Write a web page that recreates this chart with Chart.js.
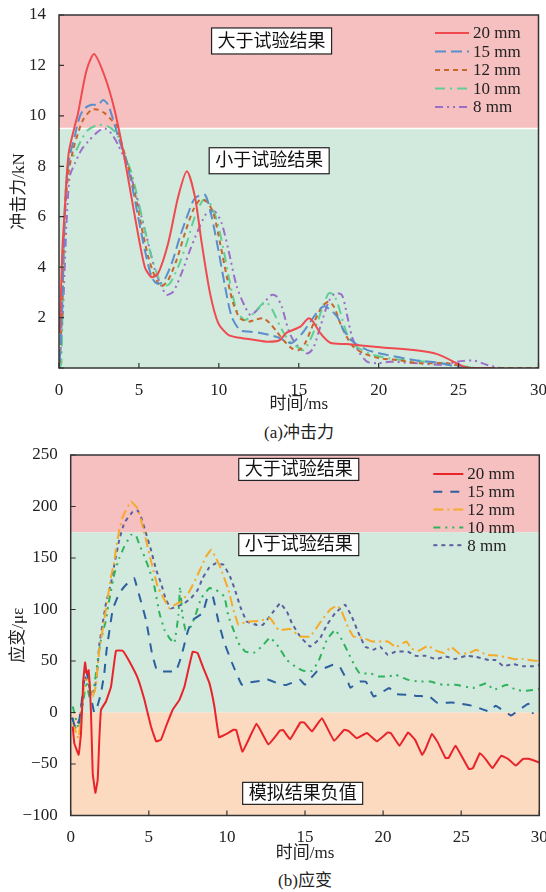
<!DOCTYPE html>
<html lang="zh-CN">
<head>
<meta charset="UTF-8" />
<title>冲击力与应变</title>
<script src="https://cdn.jsdelivr.net/npm/chart.js"></script>
<style>
  body { margin: 0; background: #fff; font-family: "Liberation Serif", "Noto Sans CJK SC", serif; color: #222; }
  .wrap { position: relative; width: 546px; height: 892px; }
  canvas { position: absolute; left: 0; }
  #forceChart { top: 0; }
  #strainChart { top: 440px; }
  .caption { position: absolute; width: 160px; font-size: 17px; line-height: 20px; text-align: center; }
</style>
</head>
<body>
<div class="wrap">
  <canvas id="forceChart" width="546" height="420"></canvas>
  <div class="caption" style="left:219px; top:423px;">(a)冲击力</div>
  <canvas id="strainChart" width="546" height="430"></canvas>
  <div class="caption" style="left:225px; top:871px;">(b)应变</div>
</div>

<script>
  // ---- (a) 冲击力, kN ----
  const forceLabels = ['20 mm', '15 mm', '12 mm', '10 mm', '8 mm'];

  const forceT20 = [0.05, 0.2, 0.36, 0.6, 0.98, 1.19, 1.72, 2.2, 2.87, 3.49, 4.12, 4.75, 5.37, 5.8, 6.2, 6.83, 7.46, 8.0, 8.5, 8.93, 9.45, 9.97, 10.6, 11.3, 12.27, 13.0, 13.8, 14.25, 15.1, 15.6, 15.9, 16.35, 16.97, 18.0, 20.1, 22.2, 23.66, 25.1, 25.5, 27.0];
  const forceV20 = [1.4, 4.5, 6.3, 8.5, 9.58, 10.1, 11.8, 12.45, 11.55, 10.2, 8.25, 6.0, 4.0, 3.6, 3.75, 4.95, 6.8, 7.8, 6.8, 4.95, 2.96, 1.77, 1.31, 1.2, 1.11, 1.04, 1.1, 1.4, 1.64, 1.97, 1.84, 1.38, 1.0, 0.95, 0.82, 0.71, 0.55, 0.12, 0, 0];

  const forceT15 = [0.05, 0.2, 0.31, 0.46, 0.67, 0.98, 1.3, 1.61, 2.03, 2.45, 2.76, 3.07, 3.39, 3.7, 4.12, 4.54, 4.95, 5.37, 5.79, 6.1, 6.52, 7.05, 7.57, 8.09, 8.5, 9.13, 9.55, 9.97, 10.39, 10.8, 11.33, 11.96, 12.5, 13.6, 14.5, 14.8, 15.3, 16.1, 16.6, 17.4, 17.8, 18.4, 19.3, 20.5, 22.2, 23.9, 24.9, 25.5];
  const forceV15 = [0.3, 2.5, 4.95, 7.33, 8.4, 9.18, 9.97, 10.3, 10.44, 10.44, 10.63, 10.44, 9.84, 9.18, 8.4, 7.33, 6.0, 4.68, 3.62, 3.36, 3.42, 4.15, 5.21, 6.14, 6.73, 6.87, 6.0, 4.68, 3.23, 2.04, 1.5, 1.44, 1.4, 1.24, 0.98, 1.1, 1.44, 2.17, 2.45, 2.04, 1.5, 1.04, 0.71, 0.52, 0.32, 0.19, 0.05, 0];

  const forceT12 = [0.05, 0.19, 0.36, 0.56, 0.88, 1.19, 1.5, 2.03, 2.45, 2.87, 3.28, 3.6, 3.91, 4.33, 4.75, 5.16, 5.58, 6.0, 6.38, 6.83, 7.36, 7.88, 8.4, 8.82, 9.24, 9.66, 10.08, 10.5, 10.9, 11.33, 11.9, 12.2, 12.79, 13.2, 13.63, 14.05, 14.57, 15.0, 15.4, 15.93, 16.45, 16.87, 17.2, 17.6, 18.0, 18.4, 19.06, 20.1, 21.1, 22.6, 24.3, 25.3, 26.3, 30];
  const forceV12 = [0.2, 2.3, 6.0, 7.6, 8.65, 9.31, 9.84, 10.24, 10.24, 10.1, 9.84, 9.64, 8.92, 7.99, 6.93, 5.61, 4.42, 3.62, 3.23, 3.49, 4.29, 5.35, 6.27, 6.67, 6.6, 6.14, 4.95, 3.62, 2.57, 1.97, 1.84, 1.9, 1.97, 1.77, 1.44, 1.1, 0.78, 0.71, 0.98, 1.77, 2.43, 2.63, 2.43, 1.77, 1.24, 0.85, 0.58, 0.38, 0.32, 0.19, 0.19, 0.05, 0, 0];

  const forceT10 = [0.05, 0.15, 0.25, 0.36, 0.56, 0.98, 1.4, 1.82, 2.45, 3.07, 3.6, 4.01, 4.54, 4.95, 5.37, 5.79, 6.2, 6.52, 6.94, 7.46, 7.99, 8.5, 9.03, 9.45, 9.87, 10.3, 10.7, 11.12, 11.64, 12.37, 12.9, 13.3, 13.84, 14.36, 14.88, 15.3, 15.7, 16.14, 16.55, 16.87, 17.2, 17.5, 17.8, 18.1, 18.6, 19.5, 21, 23, 25, 26];
  const forceV10 = [0, 0.2, 3.6, 6.3, 8.0, 8.5, 9.05, 9.44, 9.64, 9.58, 9.3, 8.65, 7.73, 6.67, 5.48, 4.42, 3.62, 3.23, 3.36, 4.02, 4.95, 6.0, 6.67, 6.53, 5.87, 4.68, 3.36, 2.3, 1.9, 2.3, 2.63, 2.37, 1.64, 1.1, 0.85, 0.71, 1.1, 1.77, 2.5, 2.96, 2.9, 2.43, 1.77, 1.24, 0.85, 0.55, 0.35, 0.25, 0.1, 0];

  const forceT8 = [0.04, 0.25, 0.46, 0.67, 0.98, 1.4, 1.82, 2.45, 2.87, 3.28, 3.7, 4.22, 4.75, 5.16, 5.58, 6.0, 6.42, 6.73, 7.15, 7.67, 8.2, 8.71, 9.24, 9.76, 10.18, 10.6, 11.12, 11.64, 12.0, 12.69, 13.3, 13.6, 13.94, 14.36, 14.78, 15.5, 15.9, 16.35, 16.87, 17.28, 17.7, 18.0, 18.33, 18.75, 19.27, 19.9, 20.73, 21.8, 22.6, 24.1, 24.9, 25.96, 26.8, 27.6];
  const forceV8 = [0.05, 2.3, 5.6, 7.6, 8.1, 8.65, 8.98, 9.38, 9.5, 9.3, 8.85, 8.12, 7.06, 6.0, 4.95, 3.89, 3.23, 2.9, 3.03, 3.76, 4.68, 5.48, 6.14, 6.2, 5.74, 4.68, 3.23, 2.43, 2.1, 2.5, 2.9, 2.85, 2.43, 1.5, 0.98, 0.58, 0.78, 1.64, 2.63, 2.96, 2.9, 2.17, 1.24, 0.65, 0.25, 0.19, 0.25, 0.21, 0.18, 0.12, 0.25, 0.29, 0.12, 0];

  const forceColors = ['#ef4a4f', '#5b8fcb', '#c9662a', '#5ecf95', '#9b6fc9'];
  const forceDashes = [[], [11, 5], [5, 4], [10, 5, 2, 5], [8, 4, 2, 4, 2, 4]];
  const forceRange = [0, 14, 2];
  const forceSplit = 9.5;

  // ---- (b) 应变, με ----
  const strainLabels = ['20 mm', '15 mm', '12 mm', '10 mm', '8 mm'];

  const strainT20 = [0.13, 0.23, 0.51, 0.66, 0.81, 0.92, 1.02, 1.15, 1.3, 1.41, 1.58, 1.73, 1.83, 1.94, 2.26, 2.58, 2.9, 3.33, 3.76, 4.29, 4.72, 5.14, 5.47, 5.78, 6.1, 6.53, 6.96, 7.28, 7.81, 8.13, 8.45, 8.88, 9.2, 9.5, 10.0, 10.42, 10.6, 11.0, 11.9, 12.66, 13.4, 13.6, 14.05, 14.7, 14.95, 15.44, 16.08, 16.87, 17.5, 17.8, 18.32, 18.96, 19.6, 20.3, 20.5, 21.05, 21.6, 22.05, 22.5, 22.7, 23.13, 23.5, 24.0, 24.2, 24.64, 25.5, 25.75, 26.2, 26.55, 27.0, 27.56, 28.0, 28.5, 28.96, 29.3, 30.0];
  const strainV20 = [-13.6, -29.7, -41, -20, 31.7, 48.5, 38, 41, -0.6, -59, -78, -65, -26.5, 2.6, 10.7, 25, 60, 60, 49.5, 33.4, 12.3, -13.6, -28, -26.5, -13.6, 2.6, 12.3, 25, 59, 57.7, 44.7, 28.5, 5.8, -24, -20.5, -16.8, -17, -38, -11, -31, -17.5, -17, -26, -9.7, -9.7, -18.4, -5.5, -27.5, -16.8, -18, -25, -20, -28, -19.4, -20, -32.3, -19.4, -26.6, -41, -36, -20.7, -29, -44.3, -44, -32.3, -55, -54, -39.4, -45, -54, -42, -45, -51.5, -45, -45, -48.5];

  const strainT15 = [0.1, 0.3, 0.5, 0.7, 0.85, 1.0, 1.15, 1.3, 1.5, 1.65, 1.94, 2.15, 2.3, 2.69, 3.11, 3.54, 4.07, 4.2, 4.82, 5.2, 5.5, 5.8, 6.32, 6.74, 7.07, 7.5, 7.81, 8.45, 8.77, 9.1, 9.48, 9.84, 10.42, 10.95, 11.38, 12.34, 12.6, 13.5, 13.8, 14.69, 14.99, 15.76, 16.8, 17.2, 17.78, 17.9, 18.5, 18.9, 19.4, 20.4, 20.8, 21.7, 22.2, 22.97, 23.5, 24.36, 24.8, 25.96, 26.2, 26.8, 27.2, 28.2, 28.3, 29.3, 29.6];
  const strainV15 = [-5, -15, -12, 10, 35, 40, 30, 15, 0, 3, 18.8, 38, 61, 100, 116, 124, 130.5, 124, 90, 57.7, 41.5, 40, 39.8, 40, 54, 79, 90, 96.5, 112.6, 112.6, 86.8, 67.4, 44.7, 27, 29, 31, 32, 27, 26.7, 31.7, 27, 39.8, 46.3, 45, 28.5, 24, 30, 30, 15.5, 23.7, 17.8, 17.2, 16, 15.5, 9.1, 9.7, 9, 5.8, 4, 1, 6.5, -3, -2, 8.4, -1.3];

  const strainT12 = [0.15, 0.35, 0.5, 0.7, 0.85, 1.0, 1.2, 1.41, 1.6, 1.83, 2.15, 2.37, 2.58, 2.8, 2.9, 3.11, 3.33, 3.86, 4.29, 4.5, 4.82, 5.2, 5.57, 5.89, 6.32, 6.6, 7.07, 7.6, 8.13, 8.67, 8.99, 9.3, 9.56, 10.1, 10.42, 10.74, 11.27, 12.13, 12.77, 13.3, 14.05, 14.69, 15.33, 15.97, 16.6, 17.04, 17.3, 17.78, 18.1, 18.75, 19.28, 20.3, 20.8, 21.5, 21.8, 22.3, 22.87, 23.4, 23.9, 24.36, 24.9, 25.54, 25.96, 26.6, 27.25, 27.8, 28.4, 28.9, 29.6, 30];
  const strainV12 = [-10, -20, -25, 0, 25, 35, 30, 15.5, 25, 61, 90, 111, 132, 146.6, 159.6, 177, 190, 205, 198, 187, 167.7, 143.4, 122, 112.6, 101, 104, 107.8, 117.5, 133.7, 151.5, 158, 150, 141.7, 119, 99.7, 85, 88.3, 89, 91.6, 80.3, 81, 73.8, 73.8, 87.4, 99.7, 103.6, 100, 82, 73.8, 72.2, 69, 69, 63.5, 69, 62, 60, 64.8, 60, 57.7, 63.5, 57, 57.7, 61, 56, 55.3, 54, 51.8, 52, 50.5, 50];

  const strainT10 = [0.13, 0.3, 0.5, 0.8, 1.0, 1.2, 1.5, 1.73, 1.94, 2.26, 2.47, 2.8, 3.11, 3.43, 3.86, 4.18, 4.4, 4.72, 5.04, 5.36, 5.68, 6.0, 6.32, 6.64, 6.9, 7.0, 7.15, 7.35, 7.7, 8.03, 8.35, 8.88, 9.3, 9.84, 10.1, 10.42, 10.74, 11.17, 11.7, 12.23, 12.77, 13.3, 13.84, 14.37, 14.9, 15.44, 15.86, 16.4, 16.93, 17.36, 17.78, 18.2, 18.5, 19.2, 19.7, 20.4, 20.8, 21.6, 22.3, 23.0, 23.8, 24.65, 25.75, 26.6, 27.1, 27.9, 28.5, 29.1, 30];
  const strainV10 = [5.8, -5, -15, 10, 30, 15, 25, 51, 70.6, 90, 109.4, 135, 150, 161, 172.5, 172, 162.8, 151.5, 138.5, 122, 96.5, 80.3, 72.2, 67.4, 95, 122, 95, 80, 83.5, 96.5, 111, 120.8, 119, 112.6, 93, 80.3, 67.4, 59.2, 57.7, 64, 72.8, 64, 51, 44.7, 40.5, 40.5, 49.5, 70.6, 80.3, 70.6, 57.7, 44.7, 38, 38, 35, 35, 36.6, 31.7, 30, 30, 27, 27, 23.7, 28.5, 22, 27, 22, 21, 22.7];

  const strainT8 = [0.1, 0.3, 0.6, 0.9, 1.2, 1.5, 1.7, 1.83, 2.05, 2.26, 2.58, 2.8, 3.11, 3.43, 3.97, 4.29, 4.5, 4.82, 5.14, 5.47, 5.78, 6.1, 6.43, 6.85, 7.28, 7.7, 8.13, 8.45, 8.88, 9.3, 9.78, 10.2, 10.52, 10.85, 11.27, 11.92, 12.3, 12.9, 13.41, 13.84, 14.16, 14.69, 15.33, 15.97, 16.4, 16.93, 17.57, 18.0, 18.43, 18.85, 19.4, 19.8, 20.3, 20.8, 21.6, 22.1, 22.7, 23.4, 24.0, 24.6, 25.3, 25.96, 26.77, 27.2, 27.7, 28.3, 28.95, 29.6, 30];
  const strainV8 = [-5, -15, -5, 35, 25, 20, 40, 65.7, 86.8, 106, 125.6, 144, 167.7, 184, 195, 196, 190, 174, 158, 138.5, 125.6, 109.4, 101, 103, 106, 111, 119, 130.5, 141, 145, 143.4, 132, 119, 103, 88.3, 85, 85, 96.5, 106, 98, 86.8, 73.8, 64, 72.2, 85, 96.5, 104.6, 93, 77, 64, 61, 64, 56, 59, 59, 55, 55, 51.8, 54.4, 52, 55, 54, 51, 51, 45, 47, 45, 45, 46];

  const strainColors = ['#e8232a', '#2c5f9e', '#f7a928', '#2eb35b', '#5b5f9e'];
  const strainDashes = [[], [9, 8], [10, 4, 2, 4], [7, 5, 2, 5, 2, 5], [4, 4]];
  const strainRange = [-100, 250, 50];

  const timeRange = [0, 30, 5];
  const fontFamily = '"Liberation Serif", "Noto Sans CJK SC", serif';

  Chart.defaults.font.family = fontFamily;
  Chart.defaults.font.size = 17;
  Chart.defaults.color = '#222';

  function toPoints(t, v) {
    return t.map((x, i) => ({ x: x, y: v[i] }));
  }

  function buildSets(labels, ts, vs, colors, dashes, tension) {
    return labels.map((label, i) => ({
      label: label,
      data: toPoints(ts[i], vs[i]),
      borderColor: colors[i],
      borderDash: dashes[i],
      borderWidth: 2,
      pointRadius: 0,
      fill: false,
      tension: tension
    }));
  }

  // 背景色块、边框、内向刻度、文字框和图例
  const panelPlugin = {
    id: 'panel',
    beforeDraw(chart, args, opts) {
      const { ctx, chartArea: a, scales: { y } } = chart;
      ctx.save();
      opts.bands.forEach(b => {
        const top = y.getPixelForValue(b.to);
        const bottom = y.getPixelForValue(b.from);
        ctx.fillStyle = b.color;
        ctx.fillRect(a.left, top, a.right - a.left, bottom - top);
      });
      if (opts.splitLine !== undefined) {
        const py = y.getPixelForValue(opts.splitLine);
        ctx.strokeStyle = '#ffffff';
        ctx.lineWidth = 1.5;
        ctx.beginPath();
        ctx.moveTo(a.left, py);
        ctx.lineTo(a.right, py);
        ctx.stroke();
      }
      ctx.restore();
    },
    afterDatasetsDraw(chart, args, opts) {
      const { ctx, chartArea: a, scales: { x, y } } = chart;
      ctx.save();

      // 边框
      ctx.strokeStyle = '#333';
      ctx.lineWidth = 1.5;
      ctx.setLineDash([]);
      ctx.strokeRect(a.left, a.top, a.right - a.left, a.bottom - a.top);

      // 刻度朝内
      ctx.lineWidth = 1.2;
      ctx.beginPath();
      x.ticks.forEach(t => {
        const px = x.getPixelForValue(t.value);
        ctx.moveTo(px, a.bottom);
        ctx.lineTo(px, a.bottom - 5);
      });
      y.ticks.forEach(t => {
        const py = y.getPixelForValue(t.value);
        ctx.moveTo(a.left, py);
        ctx.lineTo(a.left + 5, py);
      });
      ctx.stroke();

      // 文字框
      ctx.font = '18px ' + fontFamily;
      ctx.textAlign = 'center';
      ctx.textBaseline = 'middle';
      opts.notes.forEach(n => {
        const cx = x.getPixelForValue(n.x);
        const cy = y.getPixelForValue(n.y);
        const w = ctx.measureText(n.text).width + 12;
        const h = opts.noteHeight;
        ctx.fillStyle = '#fff';
        ctx.fillRect(cx - w / 2, cy - h / 2, w, h);
        ctx.strokeStyle = '#222';
        ctx.lineWidth = 1.2;
        ctx.strokeRect(cx - w / 2, cy - h / 2, w, h);
        ctx.fillStyle = '#111';
        ctx.fillText(n.text, cx, cy + 1);
      });

      // 图例
      const lg = opts.legend;
      ctx.font = '17px ' + fontFamily;
      ctx.textAlign = 'left';
      chart.data.datasets.forEach((ds, i) => {
        const ly = a.top + lg.top + i * lg.step;
        ctx.strokeStyle = ds.borderColor;
        ctx.lineWidth = 2;
        ctx.setLineDash(ds.borderDash);
        ctx.beginPath();
        ctx.moveTo(a.right + lg.lineFrom, ly);
        ctx.lineTo(a.right + lg.lineTo, ly);
        ctx.stroke();
        ctx.setLineDash([]);
        ctx.fillStyle = '#222';
        ctx.fillText(ds.label, a.right + lg.textAt, ly + 1);
      });
      ctx.restore();
    }
  };

  function makeChart(id, datasets, range, yTitle, yWidth, xHeight, yTitlePad, xTitlePad, rightPad, hideZero, panel) {
    return new Chart(document.getElementById(id), {
      type: 'line',
      data: { datasets: datasets },
      options: {
        responsive: false,
        animation: false,
        layout: { padding: { top: 15, right: rightPad, left: 0, bottom: 0 } },
        plugins: {
          legend: { display: false },
          tooltip: { enabled: false },
          panel: panel
        },
        scales: {
          x: {
            type: 'linear',
            min: timeRange[0],
            max: timeRange[1],
            grid: { display: false },
            border: { display: false },
            ticks: { stepSize: timeRange[2], padding: 4, maxRotation: 0 },
            title: { display: true, text: '时间/ms', padding: { top: 0, bottom: xTitlePad } },
            afterFit(scale) {
              scale.height = xHeight;
              scale.paddingLeft = 0;
              scale.paddingRight = 0;
            }
          },
          y: {
            min: range[0],
            max: range[1],
            grid: { display: false },
            border: { display: false },
            ticks: {
              stepSize: range[2],
              padding: 5,
              callback: v => (hideZero && v === 0) ? '' : (v < 0 ? '\u2212' + Math.abs(v) : String(v))
            },
            title: { display: true, text: yTitle, padding: { top: yTitlePad, bottom: 0 } },
            afterFit(scale) {
              scale.width = yWidth;
              scale.paddingTop = 0;
              scale.paddingBottom = 0;
            }
          }
        }
      },
      plugins: [panelPlugin]
    });
  }

  // 冲击力曲线较平滑，应变曲线按折线连接
  makeChart('forceChart',
    buildSets(forceLabels, [forceT20, forceT15, forceT12, forceT10, forceT8],
      [forceV20, forceV15, forceV12, forceV10, forceV8], forceColors, forceDashes, 0.25),
    forceRange, '冲击力/kN', 59, 52, 9, 5, 7.5, true,
    {
      bands: [
        { from: forceSplit, to: forceRange[1], color: '#f6c0c0' },
        { from: forceRange[0], to: forceSplit, color: '#d2e9dd' }
      ],
      splitLine: forceSplit,
      notes: [
        { text: '大于试验结果', x: 13.3, y: 12.97 },
        { text: '小于试验结果', x: 13.15, y: 8.22 }
      ],
      noteHeight: 26,
      legend: { top: 18, step: 18.5, lineFrom: -103.5, lineTo: -69.5, textAt: -65.5 }
    });

  makeChart('strainChart',
    buildSets(strainLabels, [strainT20, strainT15, strainT12, strainT10, strainT8],
      [strainV20, strainV15, strainV12, strainV10, strainV8], strainColors, strainDashes, 0.08),
    strainRange, '应变/με', 70.7, 54.5, 8, 6, 6.7, false,
    {
      bands: [
        { from: 175, to: strainRange[1], color: '#f6c0c0' },
        { from: 0, to: 175, color: '#d2e9dd' },
        { from: strainRange[0], to: 0, color: '#fcdac0' }
      ],
      notes: [
        { text: '大于试验结果', x: 14.6, y: 236 },
        { text: '小于试验结果', x: 14.6, y: 163 },
        { text: '模拟结果负值', x: 14.85, y: -78.5 }
      ],
      noteHeight: 22,
      legend: { top: 19, step: 17.8, lineFrom: -106, lineTo: -76, textAt: -72 }
    });
</script>
</body>
</html>
